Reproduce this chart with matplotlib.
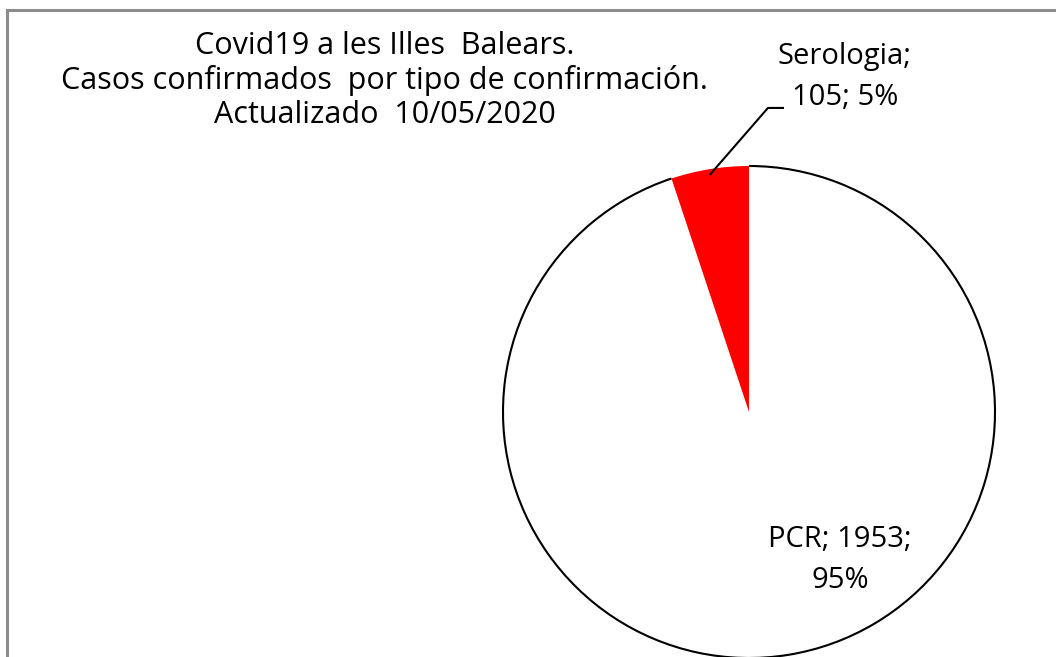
import numpy as np
import matplotlib
matplotlib.use("Agg")
import matplotlib.pyplot as plt
from matplotlib.patches import Arc

plt.rcParams['font.family'] = ['Open Sans', 'DejaVu Sans']

# --- DATA ---
categories = ["PCR", "Serologia"]
values = [1953, 105]
colors = ["white", "#ff0000"]
title_lines = ["Covid19 a les Illes  Balears.",
               "Casos confirmados  por tipo de confirmación.",
               "Actualizado  10/05/2020"]

W, H = 1056, 657
fig = plt.figure(figsize=(W / 100, H / 100), dpi=100)
fig.patch.set_facecolor("white")

# border (only top and left visible in the crop)
fig.add_artist(plt.Line2D([7 / W, 7 / W], [0, 1 - 10 / H], color="#8c8c8c", lw=2.2))
fig.add_artist(plt.Line2D([7 / W, 1], [1 - 10 / H, 1 - 10 / H], color="#8c8c8c", lw=2.2))

# pie axes: centre (749, 412) px, radius 246 px
cx, cy, r = 749, 412, 246
ax = fig.add_axes([(cx - r) / W, (H - cy - r) / H, 2 * r / W, 2 * r / H])

wedges, _ = ax.pie(values, colors=colors, startangle=90, counterclock=False,
                   radius=1, wedgeprops=dict(edgecolor="none", linewidth=0))
ax.set_xlim(-1, 1)
ax.set_ylim(-1, 1)
ax.set_aspect("equal")
ax.axis("off")
for w in wedges:
    w.set_clip_on(False)

# outline only along the PCR arc
pcr = wedges[0]
arc = Arc((0, 0), 2, 2, theta1=pcr.theta1, theta2=pcr.theta2,
          color="black", lw=1.5, clip_on=False)
ax.add_patch(arc)

total = sum(values)
pct = [round(100 * v / total) for v in values]
lab_pcr = f"{categories[0]}; {values[0]};\n{pct[0]}%"
lab_ser = f"{categories[1]};\n{values[1]}; {pct[1]}%"

fs = 21
ax.text(0.37, -0.60, lab_pcr, ha="center", va="center", fontsize=fs,
        linespacing=1.55, clip_on=False)
ax.text(0.39, 1.362, lab_ser, ha="center", va="center", fontsize=fs,
        linespacing=1.55, clip_on=False)

# leader line for Serologia
ser = wedges[1]
mid = np.deg2rad((ser.theta1 + ser.theta2) / 2)
p0 = (0.98 * np.cos(mid), 0.98 * np.sin(mid))
ax.plot([p0[0], 0.077, 0.138], [p0[1], 1.236, 1.236], color="black", lw=1.5,
        clip_on=False)

# title
for i, line in enumerate(title_lines):
    fig.text(384.5 / W, 1 - (46 + 34.5 * i) / H, line, ha="center", va="center",
             fontsize=22)

fig.savefig("out.png", dpi=100)
